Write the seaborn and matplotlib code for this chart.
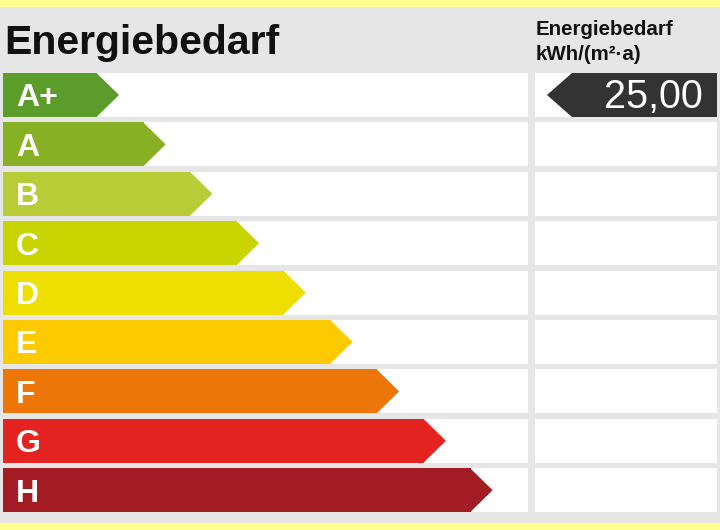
import matplotlib
matplotlib.use("Agg")
import matplotlib.pyplot as plt
from matplotlib.patches import Polygon, Rectangle
import seaborn as sns
import pandas as pd

# energy classes, their colours and the measured value
classes = ["A+", "A", "B", "C", "D", "E", "F", "G", "H"]
class_colors = ["#5b9c2a", "#88b025", "#b7cc36", "#cad400", "#efdf00",
                "#fdca00", "#ec7607", "#e42421", "#a31b23"]
value = 25.00
value_class = "A+"
title = "Energiebedarf"
unit_label = "Energiebedarf\nkWh/(m²·a)"

sns.set_theme(style="white")
plt.rcParams["font.family"] = ["Liberation Sans", "DejaVu Sans"]

W, H = 720, 530
gray = "#e6e6e6"
yellow = "#ffff8f"

fig = plt.figure(figsize=(7.2, 5.3), dpi=100)
fig.patch.set_facecolor(gray)
fig.patches.append(Rectangle((0, 1 - 6 / H), 1, 6 / H, transform=fig.transFigure,
                             color=yellow, zorder=0))
fig.patches.append(Rectangle((0, 0), 1, 7 / H, transform=fig.transFigure,
                             color=yellow, zorder=0))

# row geometry in pixels
pitch = 49.4
row_h = 44
top = 73 - (pitch - row_h) / 2
ax_h = pitch * len(classes)
bar_w = row_h / pitch


def px_axes(x0, x1):
    return fig.add_axes([x0 / W, (H - top - ax_h) / H, (x1 - x0) / W, ax_h / H])


# left column: coloured arrows
ax = px_axes(3, 528)
tip_w = 22
tips = [116 + i * 46.7 for i in range(len(classes))]
df = pd.DataFrame({"cls": classes, "body": [t - tip_w for t in tips]})

ax.barh(range(len(classes)), [525] * len(classes), height=bar_w, color="white",
        linewidth=0, zorder=0)
sns.barplot(data=df, x="body", y="cls", hue="cls", palette=class_colors,
            legend=False, ax=ax, width=bar_w, saturation=1, linewidth=0,
            orient="h", zorder=2)
for i, (b, c) in enumerate(zip(df["body"], class_colors)):
    ax.add_patch(Polygon([(b - 0.5, i - bar_w / 2), (b + tip_w, i),
                          (b - 0.5, i + bar_w / 2)], closed=True, color=c,
                         linewidth=0, zorder=2))
    ax.text(13, i + 11.5 / pitch, classes[i], color="white", fontsize=23,
            fontweight="bold", va="baseline", ha="left", zorder=3)
ax.set_xlim(0, 525)
ax.set_ylim(len(classes) - 0.5, -0.5)
ax.set_facecolor(gray)
ax.axis("off")

# right column: value marker
ax2 = px_axes(535, 717)
ax2.barh(range(len(classes)), [182] * len(classes), height=bar_w, color="white",
         linewidth=0, zorder=0)
vi = classes.index(value_class)
dark = "#333333"
ax2.add_patch(Polygon([(12, vi), (37, vi - bar_w / 2), (182, vi - bar_w / 2),
                       (182, vi + bar_w / 2), (37, vi + bar_w / 2)], closed=True,
                      color=dark, linewidth=0, zorder=2))
ax2.text(168, vi + 13 / pitch, f"{value:.2f}".replace(".", ","), color="white",
         fontsize=28.5, ha="right", va="baseline", zorder=3)
ax2.set_xlim(0, 182)
ax2.set_ylim(len(classes) - 0.5, -0.5)
ax2.set_facecolor(gray)
ax2.axis("off")

# header texts
fig.text(4 / W, 1 - 54 / H, title, fontsize=29.5, fontweight="bold",
         color="#111111", va="baseline", ha="left")
fig.text(536 / W, 1 - 35 / H, unit_label.split("\n")[0], fontsize=14.8,
         fontweight="bold", color="#111111", va="baseline", ha="left")
fig.text(536 / W, 1 - 60 / H, unit_label.split("\n")[1], fontsize=14.8,
         fontweight="bold", color="#111111", va="baseline", ha="left")

fig.savefig("out.png", dpi=100, facecolor=fig.get_facecolor())
